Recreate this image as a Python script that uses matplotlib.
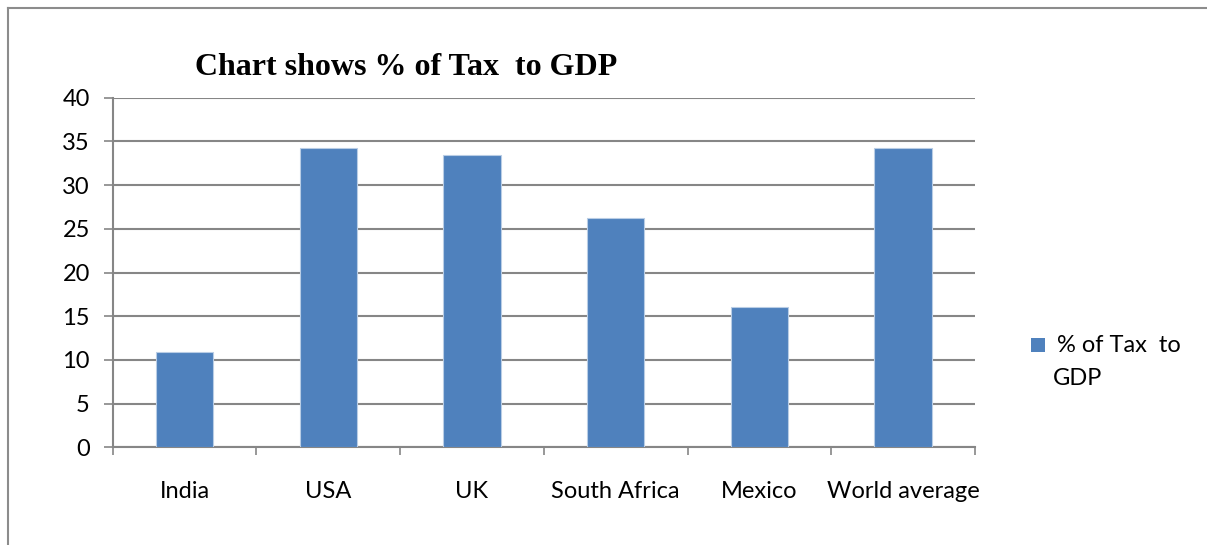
import matplotlib
matplotlib.use("Agg")
import matplotlib.pyplot as plt
from matplotlib.lines import Line2D
from matplotlib.patches import Rectangle
import numpy as np

# DATA

countries  = ["India", "USA", "UK", "South Africa", "Mexico", "World average"]
tax_to_gdp = [10.9, 34.3, 33.5, 26.2, 16.1, 34.3]
y_ticks    = [0, 5, 10, 15, 20, 25, 30, 35, 40]
series_lbl = ["% of Tax  to", "GDP"]
title      = "Chart shows % of Tax  to GDP"

BAR   = "#4F81BD"
GRID  = "#868686"
LABEL_FONT = ["Lato", "DejaVu Sans"]
W, H = 1207, 545

# FIGURE

fig = plt.figure(figsize=(W / 100, H / 100), dpi=100)
ax = fig.add_axes([112.7 / W, 1 - 447.3 / H, (975 - 112.7) / W, (447.3 - 97.7) / H])

x = np.arange(len(countries))
ax.bar(x, tax_to_gdp, width=0.4, color=BAR, edgecolor="#B9CDE5",
       linewidth=0.8, zorder=3)

ax.set_xlim(-0.5, len(countries) - 0.5)
ax.set_ylim(0, 40)
ax.set_yticks(y_ticks)
ax.set_yticklabels([str(v) for v in y_ticks], family=LABEL_FONT, fontsize=17)
ax.yaxis.grid(True, color=GRID, linewidth=1.5, zorder=0)
ax.tick_params(axis="y", length=6.5, width=1.2, color=GRID, pad=10)

# category labels at centers, tick marks at boundaries
ax.set_xticks(x)
ax.set_xticklabels(countries, family=LABEL_FONT, fontsize=17)
ax.tick_params(axis="x", which="major", length=0, pad=24)
ax.set_xticks(np.arange(len(countries) + 1) - 0.5, minor=True)
ax.tick_params(axis="x", which="minor", length=6, width=1.2, color=GRID)

for side in ("top", "right"):
    ax.spines[side].set_visible(False)
for side in ("left", "bottom"):
    ax.spines[side].set_color(GRID)
    ax.spines[side].set_linewidth(1.5)

fig.text(406 / W, 1 - 67 / H, title, family="Liberation Serif", fontweight="bold",
         fontsize=23, ha="center", va="center")

# legend: swatch beside the first line of the wrapped series name
fig.add_artist(Rectangle((1031 / W, 1 - 352 / H), 14 / W, 14 / H, facecolor=BAR,
                         edgecolor="none", transform=fig.transFigure))
fig.text(1057 / W, 1 - 352 / H, series_lbl[0], family=LABEL_FONT, fontsize=17,
         ha="left", va="baseline")
fig.text(1053 / W, 1 - 385 / H, series_lbl[1], family=LABEL_FONT, fontsize=17,
         ha="left", va="baseline")

# outer chart frame (top and left edges only visible)
fig.add_artist(Line2D([8 / W, 1.0], [1 - 7.5 / H] * 2, color="#8C8C8C",
                      linewidth=1.5, transform=fig.transFigure))
fig.add_artist(Line2D([8 / W] * 2, [0.0, 1 - 7.5 / H], color="#8C8C8C",
                      linewidth=1.5, transform=fig.transFigure))

fig.savefig("out.png", dpi=100)
